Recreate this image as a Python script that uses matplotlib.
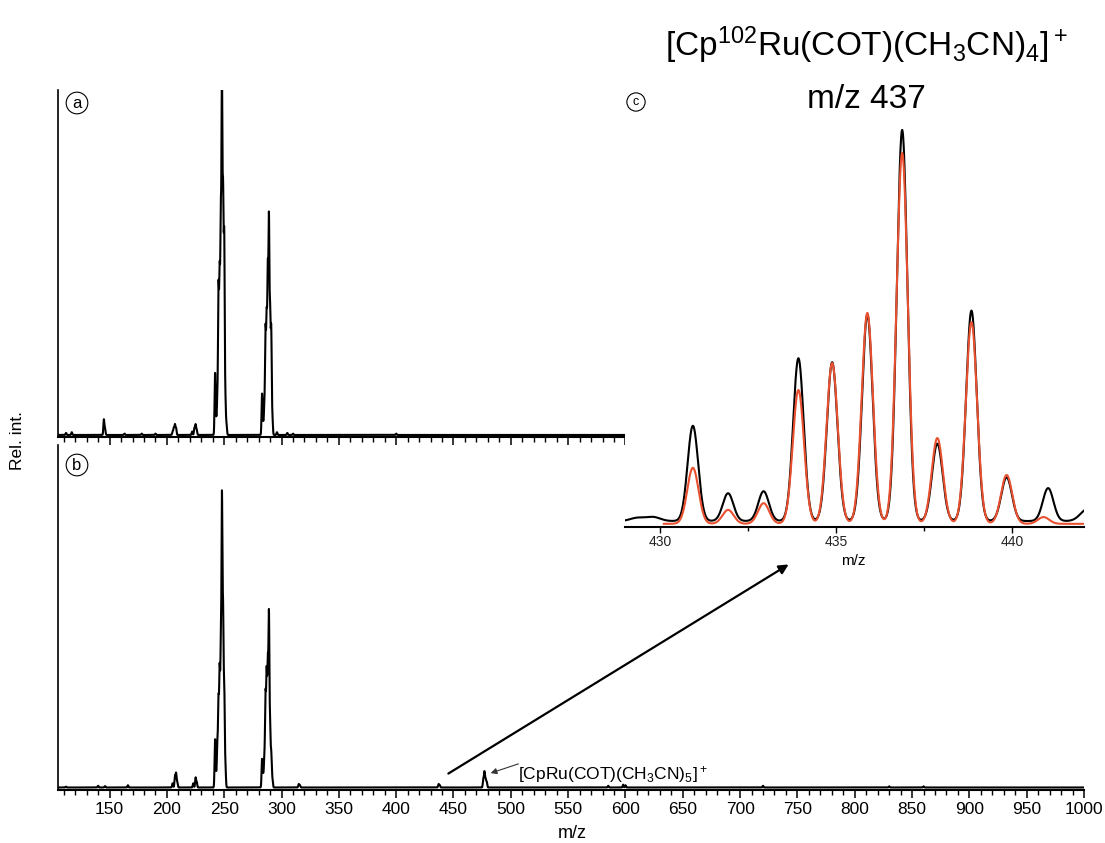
import numpy as np
import matplotlib
matplotlib.use("Agg")
import matplotlib.pyplot as plt
from matplotlib.patches import FancyArrowPatch
from matplotlib.ticker import MultipleLocator, FixedLocator

plt.rcParams["font.family"] = ["Liberation Sans", "DejaVu Sans"]
plt.rcParams["mathtext.fontset"] = "custom"
plt.rcParams["mathtext.rm"] = "Liberation Sans"
plt.rcParams["mathtext.it"] = "Liberation Sans:italic"

W, H = 1105, 843

# --- panel a: survey spectrum (peak list, m/z and rel. intensity) ---
A_MZ = [112, 117, 145, 146, 163, 178, 190, 205, 206, 207, 208, 222, 224, 225, 226,
        242, 243, 244, 245, 246, 247, 248, 249, 250, 251, 252,
        283, 284, 285, 286, 287, 288, 289, 290, 291, 292,
        296, 305, 310, 400]
A_INT = [0.006, 0.008, 0.045, 0.02, 0.004, 0.004, 0.004, 0.01, 0.02, 0.03, 0.02, 0.01, 0.02, 0.03, 0.015,
         0.18, 0.04, 0.10, 0.42, 0.45, 0.60, 1.00, 0.66, 0.56, 0.10, 0.03,
         0.12, 0.03, 0.08, 0.30, 0.33, 0.46, 0.61, 0.34, 0.30, 0.05,
         0.008, 0.006, 0.004, 0.004]
A_BASE = 0.006

# --- panel b ---
B_MZ = [112, 140, 146, 166, 205, 207, 208, 209, 223, 225, 226,
        242, 243, 244, 245, 246, 247, 248, 249, 250, 251,
        283, 284, 285, 286, 287, 288, 289, 290, 291, 292,
        315, 316, 437, 438, 476, 477, 478, 479, 585, 598, 600, 720, 830, 860]
B_INT = [0.003, 0.006, 0.005, 0.008, 0.015, 0.04, 0.05, 0.02, 0.015, 0.035, 0.02,
         0.17, 0.04, 0.15, 0.30, 0.40, 0.45, 1.00, 0.59, 0.35, 0.08,
         0.10, 0.04, 0.10, 0.32, 0.39, 0.42, 0.60, 0.21, 0.12, 0.03,
         0.012, 0.008, 0.012, 0.008, 0.03, 0.055, 0.03, 0.02, 0.006, 0.01, 0.008, 0.006, 0.004, 0.004]
B_BASE = 0.009

# --- panel c: isotope pattern, measured (black) and simulated (red) ---
C_MZ = [430.93, 431.93, 432.94, 433.93, 434.89, 435.89, 436.88, 437.88, 438.85, 439.85, 441.03]
C_MEAS = [0.24, 0.07, 0.075, 0.41, 0.40, 0.52, 0.985, 0.195, 0.53, 0.11, 0.083]
C_SIM_MZ = [430.93, 431.93, 432.94, 433.93, 434.89, 435.89, 436.88, 437.88, 438.85, 439.85, 440.9]
C_SIM = [0.141, 0.035, 0.052, 0.337, 0.405, 0.531, 0.934, 0.216, 0.508, 0.123, 0.017]
C_MEAS_BASE = 0.015
C_SIM_BASE = 0.008
C_BUMP_MZ = [429.35, 429.8, 442.15]
C_BUMP = [0.008, 0.01, 0.03]

RED = "#E8502F"


def profile(grid, centers, heights, sigma, base):
    y = np.full_like(grid, base)
    for c, h in zip(centers, heights):
        y += h * np.exp(-0.5 * ((grid - c) / sigma) ** 2)
    return y


def fx(px):
    return px / W


def fy(py):
    return 1 - py / H


fig = plt.figure(figsize=(W / 100, H / 100), dpi=100)

ax_a = fig.add_axes([fx(58), fy(437), fx(1084) - fx(58), fy(90) - fy(437)])
ax_b = fig.add_axes([fx(58), fy(790), fx(1084) - fx(58), fy(445) - fy(790)])
ax_c = fig.add_axes([fx(625), fy(527), fx(1084) - fx(625), fy(120) - fy(527)])
ax_c.set_zorder(3)

grid = np.arange(105, 1000, 0.05)
ax_a.plot(grid, profile(grid, A_MZ, A_INT, 0.42, A_BASE), color="black", lw=1.5)
ax_b.plot(grid, profile(grid, B_MZ, B_INT, 0.42, B_BASE), color="black", lw=1.5)

for ax in (ax_a, ax_b):
    ax.set_xlim(105, 1000)
    for s in ("top", "right"):
        ax.spines[s].set_visible(False)
    ax.spines["left"].set_linewidth(1.2)
    ax.spines["bottom"].set_linewidth(1.5)
    ax.set_yticks([])
    ax.tick_params(axis="x", which="major", direction="out", length=6, width=1.1,
                   labelsize=12.5, pad=3)
    ax.tick_params(axis="x", which="minor", direction="out", length=3.5, width=1.0)
ax_a.set_ylim(0, 1.02)
ax_b.set_ylim(0, 1.232)

# panel a: axis is hidden under the inset beyond ~600
ax_a.spines["bottom"].set_bounds(105, 620)
ax_a.set_xticks(range(150, 601, 50))
ax_a.xaxis.set_minor_locator(FixedLocator(range(110, 621, 10)))
ax_a.tick_params(axis="x", labelbottom=False)
ax_b.set_xticks(range(150, 1001, 50))
ax_b.xaxis.set_minor_locator(MultipleLocator(10))

# inset
gc = np.arange(429.0, 442.1, 0.005)
meas = profile(gc, C_MZ, C_MEAS, 0.15, C_MEAS_BASE) + profile(gc, C_BUMP_MZ, C_BUMP, 0.2, 0)
ax_c.plot(gc, meas, color="black", lw=1.5)
gs = gc[gc >= 430.1]
ax_c.plot(gs, profile(gs, C_SIM_MZ, C_SIM, 0.16, C_SIM_BASE), color=RED, lw=1.5)
ax_c.set_xlim(429.0, 442.05)
ax_c.set_ylim(0, 1.025)
ax_c.set_facecolor("white")
for s in ("top", "right", "left"):
    ax_c.spines[s].set_visible(False)
ax_c.spines["bottom"].set_linewidth(1.5)
ax_c.set_yticks([])
ax_c.set_xticks([430, 435, 440])
ax_c.xaxis.set_minor_locator(MultipleLocator(2.5))
ax_c.tick_params(axis="x", which="major", direction="out", length=4, width=1.0,
                 labelsize=10, pad=2, labelcolor="#222222")
ax_c.tick_params(axis="x", which="minor", direction="out", length=3, width=1.0)

# labels
fig.text(fx(18), fy(440), "Rel. int.", rotation=90, ha="center", va="center", fontsize=12.5)
fig.text(fx(572), fy(834), "m/z", ha="center", va="center", fontsize=13)
fig.text(fx(853), fy(561), "m/z", ha="center", va="center", fontsize=11)

circ = dict(boxstyle="circle,pad=0.2", fc="white", ec="black", lw=0.8)
fig.text(fx(77), fy(103), "a", ha="center", va="center", fontsize=12, bbox=circ)
fig.text(fx(77), fy(465), "b", ha="center", va="center", fontsize=12, bbox=circ)
fig.text(fx(636), fy(102), "c", ha="center", va="center", fontsize=9,
         bbox=dict(boxstyle="circle,pad=0.25", fc="white", ec="black", lw=0.8), zorder=5)

fig.text(fx(866), fy(45), r"[Cp$^{102}$Ru(COT)(CH$_3$CN)$_4$]$^+$",
         ha="center", va="center", fontsize=24)
fig.text(fx(866), fy(100), "m/z 437", ha="center", va="center", fontsize=24)

fig.text(fx(518), fy(774), r"[CpRu(COT)(CH$_3$CN)$_5$]$^+$",
         ha="left", va="center", fontsize=12.5)

fig.patches.append(FancyArrowPatch(
    (fx(446), fy(775)), (fx(791), fy(563)), transform=fig.transFigure,
    arrowstyle="-|>", mutation_scale=14, lw=1.6, color="black", zorder=6))
fig.patches.append(FancyArrowPatch(
    (fx(521), fy(763)), (fx(488), fy(774)), transform=fig.transFigure,
    arrowstyle="-|>", mutation_scale=9, lw=0.8, color="#333333", zorder=6))

fig.savefig("out.png", dpi=100, facecolor="white")
